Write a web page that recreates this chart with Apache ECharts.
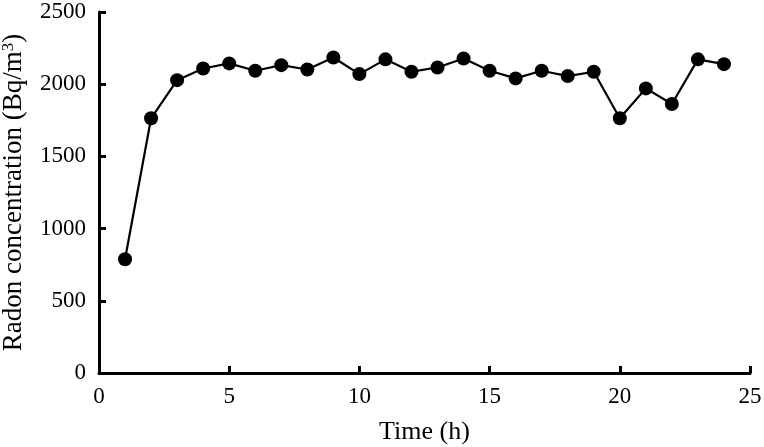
<!DOCTYPE html>
<html>
<head>
<meta charset="utf-8">
<script src="https://cdn.jsdelivr.net/npm/echarts@6/dist/echarts.min.js"></script>
<style>html,body{margin:0;padding:0;background:#fff}#c{width:764px;height:447px}</style>
</head>
<body>
<div id="c"></div>
<script>
const hours = [1,2,3,4,5,6,7,8,9,10,11,12,13,14,15,16,17,18,19,20,21,22,23,24];
const radon = [788,1764,2028,2109,2144,2093,2132,2102,2185,2070,2172,2086,2116,2178,2093,2040,2093,2056,2086,1764,1971,1863,2172,2139];
const xName = 'Time (h)';
const yName = 'Radon concentration (Bq/m{sup|3})';

const chart = echarts.init(document.getElementById('c'));
const font = 'Liberation Serif';
chart.setOption({
  animation: false,
  backgroundColor: '#fff',
  grid: {left: 99, right: 14, top: 12, bottom: 74, outerBoundsMode: 'none', containLabel: false},
  xAxis: {
    type: 'value', min: 0, max: 25, interval: 5,
    name: xName, nameLocation: 'middle', nameGap: 46,
    nameTextStyle: {fontFamily: font, fontSize: 26, color: '#000'},
    axisLine: {show: true, lineStyle: {color: '#000', width: 3}},
    axisTick: {show: true, inside: true, length: 7, lineStyle: {color: '#000', width: 3}},
    axisLabel: {fontFamily: font, fontSize: 23, color: '#000', margin: 12, formatter: v => String(v)},
    splitLine: {show: false}
  },
  yAxis: {
    type: 'value', min: 0, max: 2500, interval: 500,
    name: yName, nameLocation: 'middle', nameGap: 72,
    nameTextStyle: {fontFamily: font, fontSize: 27, color: '#000',
      rich: {sup: {fontFamily: font, fontSize: 17, color: '#000', verticalAlign: 'top', lineHeight: 26}}},
    axisLine: {show: true, lineStyle: {color: '#000', width: 3}},
    axisTick: {show: true, inside: true, length: 7, lineStyle: {color: '#000', width: 3}},
    axisLabel: {fontFamily: font, fontSize: 23, color: '#000', margin: 13, formatter: v => String(v)},
    splitLine: {show: false}
  },
  series: [{
    type: 'line',
    data: hours.map((h, i) => [h, radon[i]]),
    symbol: 'circle', symbolSize: 14,
    lineStyle: {color: '#000', width: 2.2},
    itemStyle: {color: '#000'}
  }]
});
</script>
</body>
</html>
